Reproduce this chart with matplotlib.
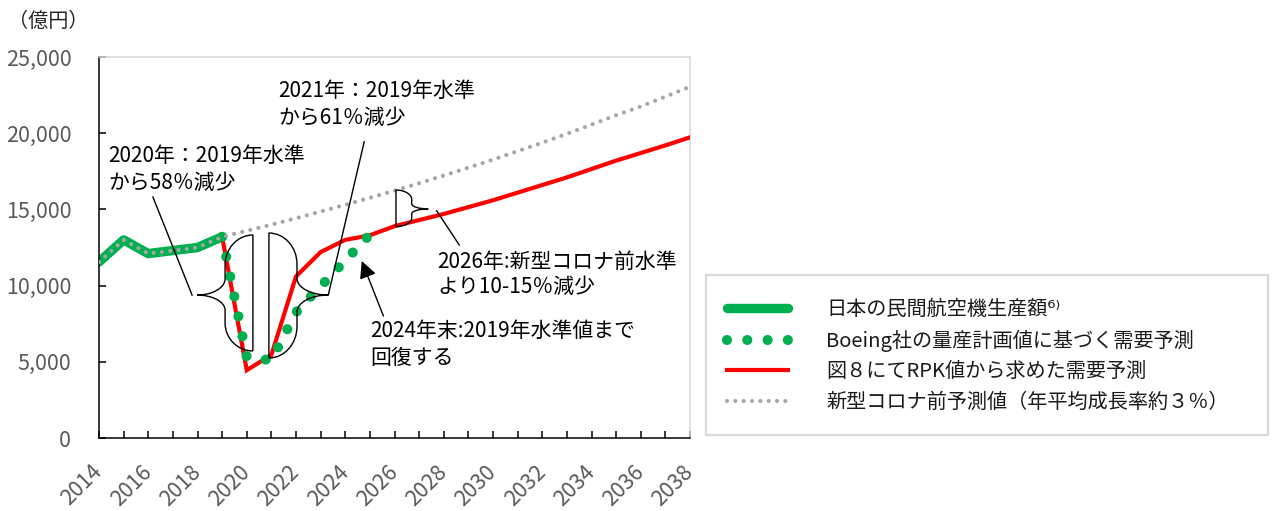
import matplotlib.pyplot as plt
from matplotlib.lines import Line2D
from matplotlib.patches import PathPatch, Rectangle
from matplotlib.path import Path
from matplotlib.ticker import FuncFormatter

plt.rcParams['font.family'] = ['Noto Sans CJK JP', 'DejaVu Sans']

GREEN = '#00B050'
RED = '#FF0000'
GRAY = '#A6A6A6'
FS = 14.5

years = list(range(2014, 2039))

# 日本の民間航空機生産額（実績, 億円）
actual_years = [2014, 2015, 2016, 2017, 2018, 2019]
actual = [11550, 13000, 12100, 12300, 12500, 13200]

# Boeing社の量産計画値に基づく需要予測
boeing_years = [2019, 2020, 2021, 2022, 2023, 2024, 2025]
boeing = [13200, 5300, 5100, 8250, 9950, 11650, 13350]

# 図8のRPK値から求めた需要予測
rpk_years = list(range(2019, 2039))
rpk = [13200, 4450, 5450, 10600, 12200, 13000, 13300, 13900, 14300, 14700,
       15150, 15600, 16100, 16600, 17100, 17650, 18200, 18700, 19200, 19730]

# 新型コロナ前予測値（2019年までは実績）
pre_covid = [11550, 13000, 12100, 12300, 12500, 13200, 13600, 14000, 14420,
             14860, 15300, 15760, 16230, 16720, 17220, 17740, 18270, 18820,
             19380, 19960, 20560, 21180, 21750, 22400, 23050]

labels = ['日本の民間航空機生産額⁶⁾',
          'Boeing社の量産計画値に基づく需要予測',
          '図８にてRPK値から求めた需要予測',
          '新型コロナ前予測値（年平均成長率約３％）']

fig = plt.figure(figsize=(12.73, 5.11), dpi=100)
ax = fig.add_axes([99 / 1273, 73 / 511, 591 / 1273, 381 / 511])

dot_green = (0, (0.001, 2.0))
dot_gray = (0, (0.001, 2.0))

ax.plot(actual_years, actual, color=GREEN, lw=6.8,
        solid_capstyle='round', solid_joinstyle='round', zorder=2)
ax.plot(rpk_years, rpk, color=RED, lw=3.0, solid_joinstyle='miter', zorder=3)
ax.plot(boeing_years, boeing, color=GREEN, lw=7.3, linestyle=dot_green,
        dash_capstyle='round', zorder=4)
ax.plot(years, pre_covid, color=GRAY, lw=3.0, linestyle=dot_gray,
        dash_capstyle='round', zorder=5)

ax.set_xlim(2014, 2038)
ax.set_ylim(0, 25000)
ax.set_xticks(years)
ax.set_xticklabels([str(y) if y % 2 == 0 else '' for y in years],
                   rotation=45, ha='right', va='center', rotation_mode='anchor')
ax.set_yticks(range(0, 25001, 5000))
ax.yaxis.set_major_formatter(FuncFormatter(lambda v, p: f'{int(v):,}'))
ax.tick_params(axis='both', direction='in', length=5, width=1.1,
               labelsize=15.5, labelcolor='#595959')
ax.tick_params(axis='y', pad=20)
ax.tick_params(axis='x', pad=22)

for side in ['left', 'bottom']:
    ax.spines[side].set_linewidth(1.1)
    ax.spines[side].set_color('black')
for side in ['top', 'right']:
    ax.spines[side].set_linewidth(1.1)
    ax.spines[side].set_color('#D9D9D9')

fig.text(8 / 1273, 1 - 21 / 511, '（億円）', fontsize=FS, color='#262626',
         ha='left', va='center')


def brace(x_flat, x_mid, x_tip, y_top, y_bot, y_tip):
    # flat back at x_flat, curly side at x_mid, point at x_tip
    k = 0.552
    w = x_mid - x_flat
    t = x_tip - x_mid
    h1 = y_top - y_tip
    h2 = y_tip - y_bot
    a1, b1 = 0.5 * h1, 0.27 * h1
    a2, b2 = 0.5 * h2, 0.27 * h2
    verts = [(x_flat, y_bot), (x_flat, y_top),
             (x_flat + k * w, y_top), (x_mid, y_top - (1 - k) * a1), (x_mid, y_top - a1),
             (x_mid, y_tip + b1),
             (x_mid, y_tip + (1 - k) * b1), (x_tip - k * t, y_tip), (x_tip, y_tip),
             (x_tip - k * t, y_tip), (x_mid, y_tip - (1 - k) * b2), (x_mid, y_tip - b2),
             (x_mid, y_bot + a2),
             (x_mid, y_bot + (1 - k) * a2), (x_flat + k * w, y_bot), (x_flat, y_bot)]
    codes = [Path.MOVETO, Path.LINETO,
             Path.CURVE4, Path.CURVE4, Path.CURVE4,
             Path.LINETO,
             Path.CURVE4, Path.CURVE4, Path.CURVE4,
             Path.CURVE4, Path.CURVE4, Path.CURVE4,
             Path.LINETO,
             Path.CURVE4, Path.CURVE4, Path.CURVE4]
    ax.add_patch(PathPatch(Path(verts, codes), facecolor='none',
                           edgecolor='black', lw=1.0, zorder=6))


def note(x, y, lines, step=1770):
    for i, s in enumerate(lines):
        ax.text(x, y - i * step, s, fontsize=15, color='black',
                ha='left', va='center', zorder=7)


# 2020年の落ち込み
brace(2020.25, 2019.12, 2017.98, 13320, 5710, 9380)
ax.plot([2016.19, 2017.78], [15810, 9380], color='black', lw=1.0, zorder=6)
note(2014.37, 18500, ['2020年：2019年水準', 'から58％減少'])

# 2021年の落ち込み
brace(2020.90, 2022.04, 2023.30, 13450, 5250, 9380)
ax.plot([2024.77, 2023.31], [19440, 9380], color='black', lw=1.0, zorder=6)
note(2021.27, 22800, ['2021年：2019年水準', 'から61％減少'])

# 2026年のコロナ前との差
brace(2026.06, 2026.70, 2027.37, 16270, 13870, 15030)
ax.plot([2027.71, 2028.63], [14915, 12665], color='black', lw=1.0, zorder=6)
note(2027.73, 11520, ['2026年:新型コロナ前水準', 'より10-15％減少'], step=1640)

# 2024年末の回復
ax.annotate('', xy=(2024.67, 11615), xytext=(2025.55, 8005),
            arrowprops=dict(arrowstyle='-|>', color='black', lw=1.0,
                            mutation_scale=26, shrinkA=0, shrinkB=0), zorder=7)
note(2025.0, 6990, ['2024年末:2019年水準値まで', '回復する'])

handles = [
    Line2D([], [], color=GREEN, lw=6.8, solid_capstyle='round'),
    Line2D([], [], color=GREEN, lw=7.3, linestyle=dot_green, dash_capstyle='round'),
    Line2D([], [], color=RED, lw=3.0),
    Line2D([], [], color=GRAY, lw=3.0, linestyle=dot_gray, dash_capstyle='round'),
]
fig.legend(handles, labels, loc='upper left',
           bbox_to_anchor=(727 / 1273, 1 - 299 / 511), frameon=False,
           fontsize=FS, handlelength=3.03, handletextpad=1.9,
           labelspacing=0.48, borderpad=0, borderaxespad=0,
           labelcolor='#1a1a1a')
fig.add_artist(Rectangle((706 / 1273, 1 - 435 / 511), 562 / 1273, 160 / 511,
                         transform=fig.transFigure, fill=False,
                         edgecolor='#D9D9D9', lw=1.6))

fig.savefig('out.png', dpi=100)
